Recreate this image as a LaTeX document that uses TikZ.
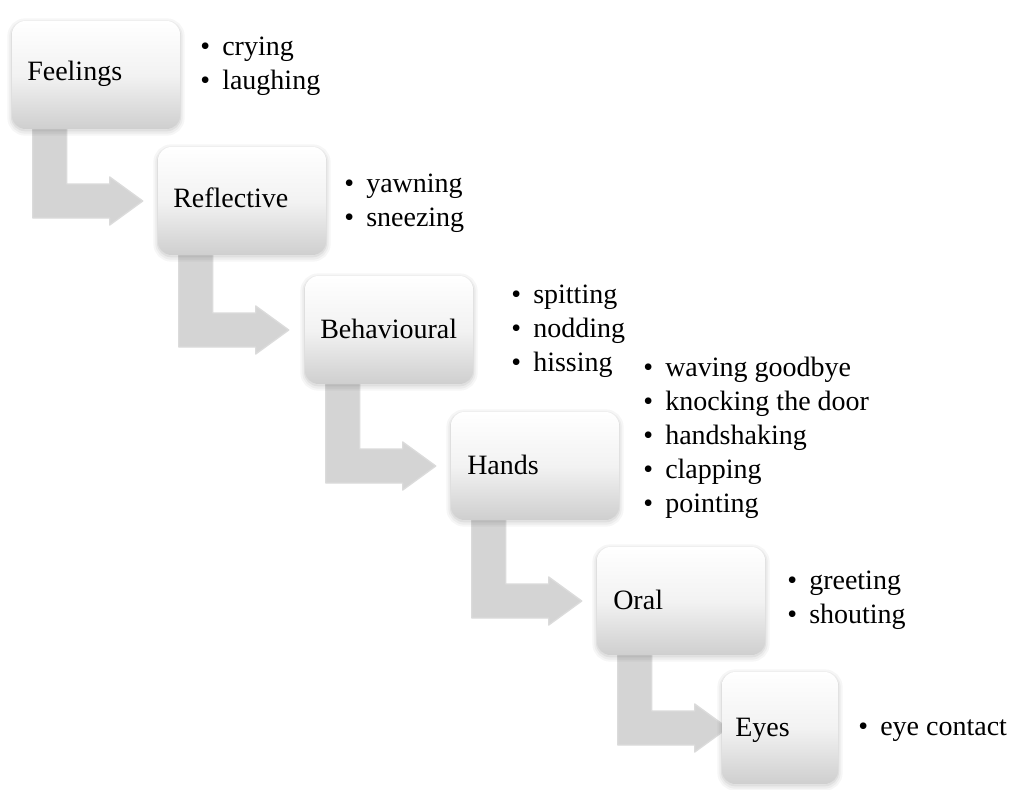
\documentclass[tikz,border=0pt]{standalone}
\usepackage{fontspec}
\setmainfont{Liberation Serif}
\usetikzlibrary{calc}
\pgfdeclarelayer{bg}
\pgfsetlayers{bg,main}
\newcommand\bul{\strut\makebox[16.5pt][l]{•}}
\newcommand\bendarrow[2]{%
  \fill[arrowfill] let \p1=(#1.south west), \p2=(#2.west) in
    (\x1+15.75pt,\y1+7.5pt) -- (\x1+41.25pt,\y1+7.5pt) -- (\x1+41.25pt,\y2+12.75pt)
    -- (\x1+73.5pt,\y2+12.75pt) -- (\x1+73.5pt,\y2+18pt) -- (\x1+98.25pt,\y2)
    -- (\x1+73.5pt,\y2-18pt) -- (\x1+73.5pt,\y2-12.75pt) -- (\x1+15.75pt,\y2-12.75pt) -- cycle;}
\begin{document}
\begin{tikzpicture}[x=0.75pt,y=-0.75pt,
  every node/.style={font=\fontsize{21}{25.5}\selectfont},
  stepbox/.style={rectangle, rounded corners=10pt, minimum width=168*0.75pt,
    minimum height=108*0.75pt, inner sep=0pt,
    top color=white, bottom color=black!19, middle color=black!5,
    preaction={draw=black, draw opacity=0.035, line width=7pt, transform canvas={yshift=-1.5pt}},
    preaction={draw=black, draw opacity=0.04, line width=4pt, transform canvas={yshift=-1.5pt}},
    preaction={draw=black, draw opacity=0.05, line width=1.5pt, transform canvas={yshift=-1pt}}},
  boxtext/.style={anchor=base west, inner sep=0pt},
  listtext/.style={anchor=north west, inner sep=0pt, align=left},
  arrowfill/.style={fill=black!17, draw=black!14, line width=1pt, line join=round}]
\begin{pgfonlayer}{bg}
\fill[white] (0,0) rectangle (1019,789);
\end{pgfonlayer}
\useasboundingbox (0,0) rectangle (1019,789);

\node[stepbox] (b1) at (96,75) {};
\node[stepbox] (b2) at (242,201) {};
\node[stepbox] (b3) at (389,330) {};
\node[stepbox] (b4) at (535,466) {};
\node[stepbox] (b5) at (681,601) {};
\node[stepbox, minimum width=116*0.75pt, minimum height=112*0.75pt] (b6) at (780,728) {};

\begin{pgfonlayer}{bg}
\bendarrow{b1}{b2}
\bendarrow{b2}{b3}
\bendarrow{b3}{b4}
\bendarrow{b4}{b5}
\bendarrow{b5}{b6}
\end{pgfonlayer}

\node[boxtext] (t1) at (27,80) {Feelings};
\node[boxtext] (t2) at (173,207) {Reflective};
\node[boxtext] (t3) at (320,338) {Behavioural};
\node[boxtext] (t4) at (467,474) {Hands};
\node[boxtext] (t5) at (613,609) {Oral};
\node[boxtext] (t6) at (735,736) {Eyes};

\node[listtext] (l1) at (200,31.2) {\bul crying\\\bul laughing};
\node[listtext] (l2) at (344,168.2) {\bul yawning\\\bul sneezing};
\node[listtext] (l3) at (511,279.2) {\bul spitting\\\bul nodding\\\bul hissing};
\node[listtext] (l4) at (643,352) {\bul waving goodbye\\\bul knocking the door\\\bul handshaking\\\bul clapping\\\bul pointing};
\node[listtext] (l5) at (787,565.5) {\bul greeting\\\bul shouting};
\node[listtext] (l6) at (858,711.2) {\bul eye contact};
\end{tikzpicture}
\end{document}
